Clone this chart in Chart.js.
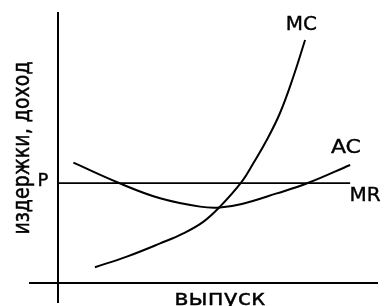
<!DOCTYPE html>
<html>
<head>
<meta charset="utf-8">
<script src="https://cdn.jsdelivr.net/npm/chart.js@4.4.1/dist/chart.umd.min.js"></script>
<style>
  html, body { margin: 0; padding: 0; background: #fff; }
</style>
</head>
<body>
<canvas id="chart" width="384" height="306"></canvas>
<script>
// price level (MR = P)
const priceP = 3.48;
const mrX = [0, 10.44];

// average cost curve
const acX = [0.55, 2.16, 3.65, 5.08, 5.79, 6.57, 7.82, 8.95, 10.44];
const acY = [4.19, 3.49, 2.95, 2.66, 2.63, 2.75, 3.12, 3.49, 4.11];

// marginal cost curve
const mcX = [1.32, 2.46, 3.65, 4.48, 5.19, 5.79, 6.57, 6.98, 7.46, 7.93, 8.41, 8.83];
const mcY = [0.55, 0.92, 1.38, 1.73, 2.13, 2.66, 3.53, 4.17, 4.98, 5.91, 7.18, 8.46];

const curveNames = ["MC", "AC", "MR", "P"];
const axisTitles = ["издержки, доход", "выпуск"];

function toPoints(xs, ys) {
  return xs.map((x, i) => ({ x: x, y: ys[i] }));
}

// where the texts sit (in chart units)
const textSpots = [
  { text: curveNames[0], x: 8.7, y: 9.0, size: 20 },
  { text: curveNames[1], x: 10.29, y: 4.72, size: 20, sx: 1.1 },
  { text: curveNames[2], x: 10.97, y: 3.05, size: 20 },
  { text: curveNames[3], x: -0.54, y: 3.53, size: 18 },
  { text: axisTitles[0], x: -1.25, y: 4.7, size: 19, rot: -Math.PI / 2, sy: 1.25 },
  { text: axisTitles[1], x: 5.79, y: -0.56, size: 22, sx: 1.1 },
];

const textPlugin = {
  id: "curveText",
  afterDraw(chart) {
    const { ctx, scales } = chart;
    ctx.save();
    ctx.fillStyle = "#000";
    ctx.strokeStyle = "#000";
    ctx.lineWidth = 0.4;
    ctx.textAlign = "center";
    ctx.textBaseline = "middle";
    textSpots.forEach((t) => {
      ctx.font = t.size + "px 'DejaVu Sans'";
      const px = scales.x.getPixelForValue(t.x);
      const py = scales.y.getPixelForValue(t.y);
      ctx.save();
      ctx.translate(px, py);
      if (t.rot) ctx.rotate(t.rot);
      ctx.scale(t.sx || 1, t.sy || 1);
      ctx.fillText(t.text, 0, 0);
      ctx.strokeText(t.text, 0, 0);
      ctx.restore();
    });
    ctx.restore();
  },
};

const lineStyle = {
  borderColor: "#000",
  borderWidth: 2,
  pointRadius: 0,
  showLine: true,
  fill: false,
  tension: 0.4,
};

new Chart(document.getElementById("chart"), {
  type: "scatter",
  data: {
    datasets: [
      { ...lineStyle, label: "MR", data: mrX.map((x) => ({ x: x, y: priceP })), borderWidth: 1.8, tension: 0 },
      { ...lineStyle, label: "AC", data: toPoints(acX, acY) },
      { ...lineStyle, label: "MC", data: toPoints(mcX, mcY) },
    ],
  },
  options: {
    responsive: false,
    animation: false,
    events: [],
    layout: { padding: { left: 30, right: 7, top: 13, bottom: 4 } },
    plugins: { legend: { display: false }, tooltip: { enabled: false } },
    scales: {
      x: {
        type: "linear",
        min: -1,
        max: 11.4,
        position: { y: 0 },
        grid: { display: false },
        ticks: { display: false },
        border: { color: "#000", width: 2 },
      },
      y: {
        type: "linear",
        min: -0.66,
        max: 9.4,
        position: { x: 0 },
        grid: { display: false },
        ticks: { display: false },
        border: { color: "#000", width: 2 },
      },
    },
  },
  plugins: [textPlugin],
});
</script>
</body>
</html>
